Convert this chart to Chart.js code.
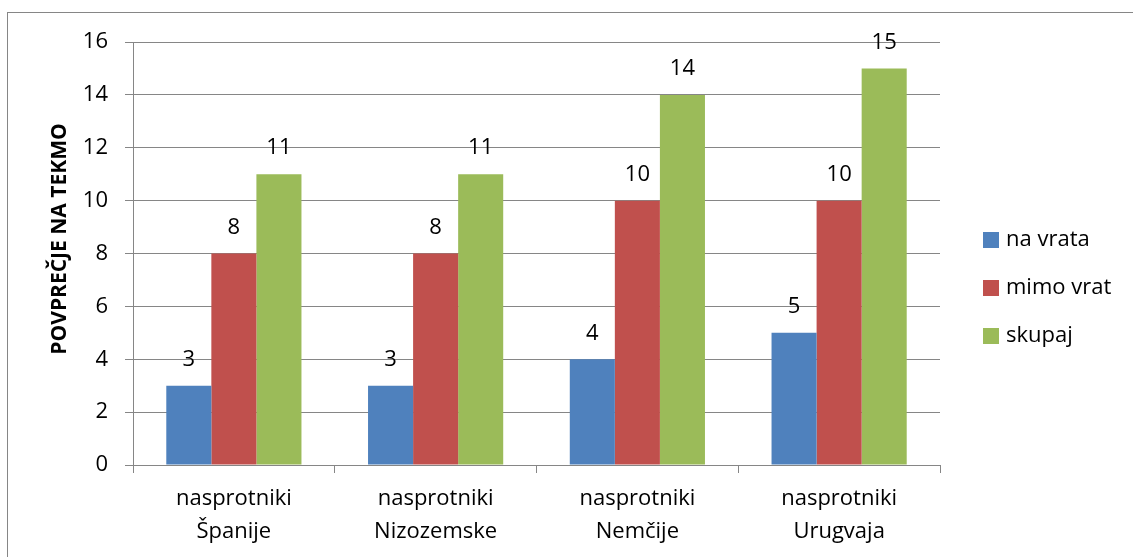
<!DOCTYPE html>
<html>
<head>
<meta charset="utf-8">
<script src="https://cdn.jsdelivr.net/npm/chart.js@4/dist/chart.umd.min.js"></script>
<style>
  body { margin: 0; background: #fff; }
  canvas { display: block; }
</style>
</head>
<body>
<canvas id="shots-chart" width="1133" height="557"></canvas>
<script>
var categories = [
  ["nasprotniki", "Španije"],
  ["nasprotniki", "Nizozemske"],
  ["nasprotniki", "Nemčije"],
  ["nasprotniki", "Urugvaja"]
];
var naVrata = [3, 3, 4, 5];
var mimoVrat = [8, 8, 10, 10];
var skupaj = [11, 11, 14, 15];
var seriesNames = ["na vrata", "mimo vrat", "skupaj"];
var seriesColors = ["#4F81BD", "#C0504D", "#9BBB59"];
var axisTitle = "POVPREČJE NA TEKMO";

var fontFamily = "'Open Sans', 'Liberation Sans', sans-serif";
var gridColor = "#868686";

// frame round the whole chart
var framePlugin = {
  id: "frame",
  beforeDraw: function (chart) {
    var c = chart.ctx;
    c.save();
    c.strokeStyle = "#868686";
    c.lineWidth = 1;
    c.strokeRect(7.5, 12.5, 1140, 560);
    c.restore();
  }
};

// numbers above the bars
var labelPlugin = {
  id: "barLabels",
  afterDatasetsDraw: function (chart) {
    var c = chart.ctx;
    c.save();
    c.font = "22px " + fontFamily;
    c.fillStyle = "#000";
    c.textAlign = "center";
    c.textBaseline = "middle";
    chart.data.datasets.forEach(function (ds, i) {
      chart.getDatasetMeta(i).data.forEach(function (bar, j) {
        c.fillText(ds.data[j], bar.x, bar.y - 26);
      });
    });
    c.restore();
  }
};

// legend on the right + y axis title
var legendPlugin = {
  id: "sideLegend",
  afterDraw: function (chart) {
    var c = chart.ctx;
    c.save();
    c.font = "22px " + fontFamily;
    c.textBaseline = "middle";
    c.textAlign = "left";
    chart.data.datasets.forEach(function (ds, i) {
      var y = 240 + i * 48;
      c.fillStyle = ds.backgroundColor;
      c.fillRect(983, y - 8, 16, 16);
      c.fillStyle = "#000";
      c.fillText(ds.label, 1006, y);
    });
    c.translate(60, 239);
    c.rotate(-Math.PI / 2);
    c.textAlign = "center";
    c.font = "bold 21px " + fontFamily;
    c.fillText(axisTitle, 0, 0);
    c.restore();
  }
};

var ctx = document.getElementById("shots-chart");

var myBarChart = new Chart(ctx, {
  type: "bar",
  data: {
    labels: categories,
    datasets: [
      { label: seriesNames[0], data: naVrata, backgroundColor: seriesColors[0] },
      { label: seriesNames[1], data: mimoVrat, backgroundColor: seriesColors[1] },
      { label: seriesNames[2], data: skupaj, backgroundColor: seriesColors[2] }
    ]
  },
  options: {
    responsive: false,
    animation: false,
    barPercentage: 1,
    categoryPercentage: 0.67,
    layout: { padding: { top: 42, right: 193, left: 0, bottom: 0 } },
    plugins: {
      legend: { display: false },
      tooltip: { enabled: false }
    },
    scales: {
      x: {
        grid: { offset: true, drawOnChartArea: false, drawTicks: true, tickLength: 8, color: gridColor },
        border: { color: gridColor },
        ticks: { color: "#000", font: { family: fontFamily, size: 22, lineHeight: 1.5 }, padding: 9, maxRotation: 0 },
        afterFit: function (scale) { scale.height = 92; }
      },
      y: {
        min: 0,
        max: 16,
        ticks: { stepSize: 2, color: "#000", font: { family: fontFamily, size: 22 }, padding: 17 },
        grid: { color: gridColor, tickLength: 8 },
        border: { color: gridColor },
        afterFit: function (scale) { scale.width = 133; }
      }
    }
  },
  plugins: [framePlugin, labelPlugin, legendPlugin]
});
</script>
</body>
</html>
